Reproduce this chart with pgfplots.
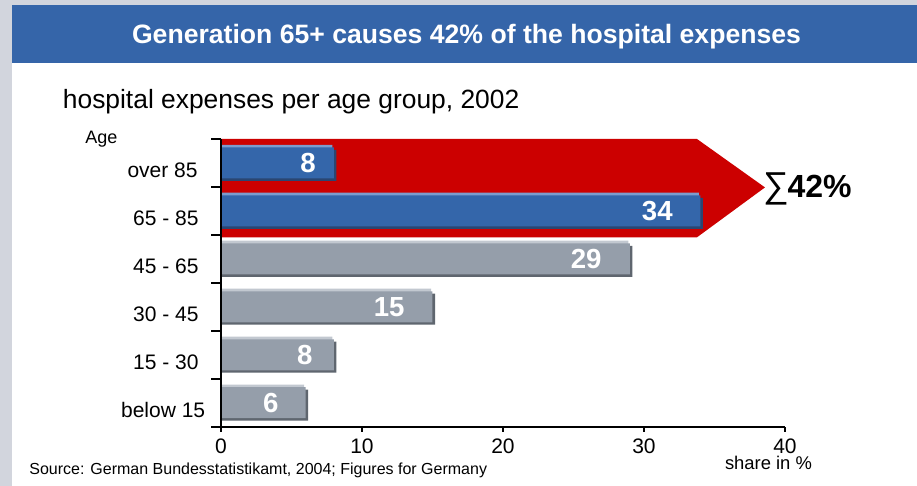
\documentclass[border=0pt]{standalone}
\usepackage{pgfplots}
\pgfplotsset{compat=1.18}
\usepackage{fontspec}
\setmainfont{Liberation Sans}
\definecolor{grayframe}{HTML}{D2D5DD}
\definecolor{bannerblue}{HTML}{3565A9}
\definecolor{barblue}{HTML}{3466AA}
\definecolor{barbluehl}{HTML}{7B9CCD}
\definecolor{barblueshadow}{HTML}{2A4672}
\definecolor{bargray}{HTML}{959EAA}
\definecolor{bargrayhl}{HTML}{C2C8D0}
\definecolor{bargrayshadow}{HTML}{5F666F}
\definecolor{arrowred}{HTML}{CC0000}
\begin{document}
\begin{tikzpicture}[x=1pt,y=1pt]
\useasboundingbox (0,0) rectangle (458.5,243);
\fill[grayframe] (0,0) rectangle (458.5,243);
\fill[white] (6,0) rectangle (458.5,211.5);
\fill[bannerblue] (6,211.5) rectangle (458.5,240.5);
\node[anchor=base, text=white, inner sep=0, font=\bfseries\fontsize{13.3}{16}\selectfont] at (233.25,221) {Generation 65+ causes 42\% of the hospital expenses};
\node[anchor=base west, inner sep=0, font=\fontsize{13.2}{16}\selectfont] at (31.25,188.75) {hospital expenses per age group, 2002};
\node[anchor=base west, inner sep=0, font=\fontsize{9}{11}\selectfont] at (42.5,171.35) {Age};
\node[anchor=base west, inner sep=0, font=\fontsize{8}{10}\selectfont] at (14.5,5.5) {Source: German Bundesstatistikamt, 2004; Figures for Germany};
\node[anchor=base, inner sep=0, font=\fontsize{9.2}{11}\selectfont] at (384.25,8) {share in \%};
\node[anchor=base west, inner sep=0] at (381.35,144.35) {{\fontsize{18}{20}\selectfont ∑}\kern-0.6pt{\bfseries\fontsize{16}{19}\selectfont 42\%}};
\begin{axis}[
  at={(110.5pt,29.65pt)}, anchor=south west,
  scale only axis, width=282pt, height=143.85pt,
  xmin=0, xmax=40, ymin=-0.5, ymax=5.5,
  axis lines=left,
  axis line style={-, line width=1pt, black},
  axis on top, clip=false,
  xtick={0,10,20,30,40},
  ytick={-0.5,0.5,1.5,2.5,3.5,4.5,5.5},
  yticklabels={},
  tick align=outside,
  major tick length=2.5pt,
  ytick style={/pgfplots/major tick length=5pt},
  tick style={line width=1pt, black},
  xticklabel style={font=\fontsize{10.5}{12}\selectfont},
  /pgf/number format/assume math mode=true,
]
% red arrow
\addplot[fill=arrowred, draw=none] coordinates {(0,5.5) (33.76,5.5) (38.58,4.49) (33.76,3.45) (0,3.45)} -- cycle;
% blue bars (65+)
\addplot[xbar, bar width=15.5pt, bar shift=-1.2pt, fill=barblueshadow, draw=none] coordinates {(8.18,5) (34.18,4)};
\addplot[xbar, bar width=15.5pt, bar shift=1.35pt, fill=barbluehl, draw=none] coordinates {(7.9,5) (33.9,4)};
\addplot[xbar, bar width=15.5pt, bar shift=0pt, fill=barblue, draw=none] coordinates {(8,5) (34,4)};
% gray bars
\addplot[xbar, bar width=15.5pt, bar shift=-1.2pt, fill=bargrayshadow, draw=none] coordinates {(29.18,3) (15.18,2) (8.18,1) (6.18,0)};
\addplot[xbar, bar width=15.5pt, bar shift=1.35pt, fill=bargrayhl, draw=none] coordinates {(28.9,3) (14.9,2) (7.9,1) (5.9,0)};
\addplot[xbar, bar width=15.5pt, bar shift=0pt, fill=bargray, draw=none] coordinates {(29,3) (15,2) (8,1) (6,0)};
% value labels
\begin{scope}[every node/.style={anchor=east, inner sep=0, text=white, font=\bfseries\fontsize{13.8}{16}\selectfont}]
\node at (axis cs:6.74,5) {8};
\node at (axis cs:32.06,4) {34};
\node at (axis cs:27.02,3) {29};
\node at (axis cs:13.05,2) {15};
\node at (axis cs:6.52,1) {8};
\node at (axis cs:4.11,0) {6};
\end{scope}
% category labels
\begin{scope}[every node/.style={anchor=base east, inner sep=0, font=\fontsize{10.5}{12}\selectfont, yshift=-7.25pt}]
\node[xshift=-11.5pt] at (axis cs:0,5) {over 85};
\node[xshift=-11pt] at (axis cs:0,4) {65 - 85};
\node[xshift=-11pt] at (axis cs:0,3) {45 - 65};
\node[xshift=-11pt] at (axis cs:0,2) {30 - 45};
\node[xshift=-11pt] at (axis cs:0,1) {15 - 30};
\node[xshift=-7.7pt] at (axis cs:0,0) {below 15};
\end{scope}
\end{axis}
\end{tikzpicture}
\end{document}
